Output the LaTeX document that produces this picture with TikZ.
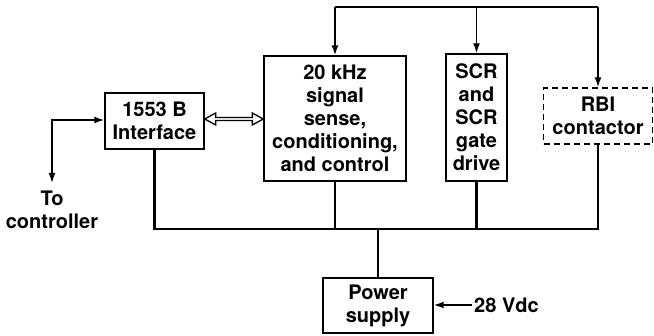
\documentclass[tikz,border=0pt]{standalone}
\usepackage{fontspec}
\setmainfont{TeX Gyre Heros}
\usetikzlibrary{arrows.meta,calc}
\begin{document}
\begin{tikzpicture}[x=1pt,y=-1pt,
  txt/.style={font=\bfseries\fontsize{20}{23}\selectfont},
  box/.style={txt,draw,line width=1.4pt,inner sep=0pt,align=center},
  lbl/.style={txt,inner sep=0pt,align=center},
  bus/.style={line width=2.6pt,line join=miter},
  feed/.style={line width=1.6pt,-{Latex[length=10pt,width=7pt]}},
  ctl/.style={line width=1.6pt,{Latex[length=10pt,width=7pt]}-{Latex[length=10pt,width=7pt]}}]
\useasboundingbox (0,0) rectangle (654,336);
% blocks
\node[box,minimum width=99pt,minimum height=56pt] (iface) at (154.5,121) {1553 B\\Interface};
\node[box,minimum width=142pt,minimum height=125pt] (sig) at (335,118.5) {20 kHz\\signal\\sense,\\conditioning,\\and control};
\node[box,minimum width=61pt,minimum height=127pt] (scr) at (476.5,117.5) {SCR\\and\\SCR\\gate\\drive};
\node[box,dashed,dash pattern=on 6pt off 4pt,minimum width=109pt,minimum height=56pt] (rbi) at (598,116) {RBI\\contactor};
\node[box,minimum width=110pt,minimum height=55pt] (ps) at (378,305.5) {Power\\supply};
% labels
\node[lbl] (ctrl) at (52,210) {To\\controller};
\node[lbl,anchor=west] (vdc) at (474,305) {28 Vdc};
% helper coordinates
\coordinate (top) at (335,7);
\coordinate (bot) at (153,229);
\coordinate (y0) at (0,119);
\coordinate (cc) at (52,120);
\coordinate (cend) at (52,183);
% top bus with feeds
\draw[line width=1.6pt] (sig.north |- top) -- (rbi.north |- top);
\draw[feed] (sig.north |- top) -- (sig.north);
\draw[feed] (scr.north |- top) -- (scr.north);
\draw[feed] (rbi.north |- top) -- (rbi.north);
% bottom bus
\draw[bus] (iface.south) -- (iface.south |- bot) -- (rbi.south |- bot) -- (rbi.south);
\draw[bus] (sig.south) -- (sig.south |- bot);
\draw[bus] (scr.south) -- (scr.south |- bot);
\draw[bus] (ps.north) -- (ps.north |- bot);
% controller link
\draw[ctl] (cend) -- (cc) -- (iface.west |- cc);
% 28 Vdc feed
\draw[feed,shorten <=2pt] (vdc.west) -- (ps.east |- vdc.west);
% double arrow between interface and signal block
\coordinate (L) at (iface.east |- y0);
\coordinate (R) at (sig.west |- y0);
\draw[line width=1.3pt,line join=miter] (L) -- ++(11,-6) -- ++(0,4.5) -- ($(R)+(-11,-1.5)$) -- ++(0,-4.5) -- (R) -- ++(-11,6) -- ++(0,-4.5) -- ($(L)+(11,1.5)$) -- ++(0,4.5) -- cycle;
\end{tikzpicture}
\end{document}
